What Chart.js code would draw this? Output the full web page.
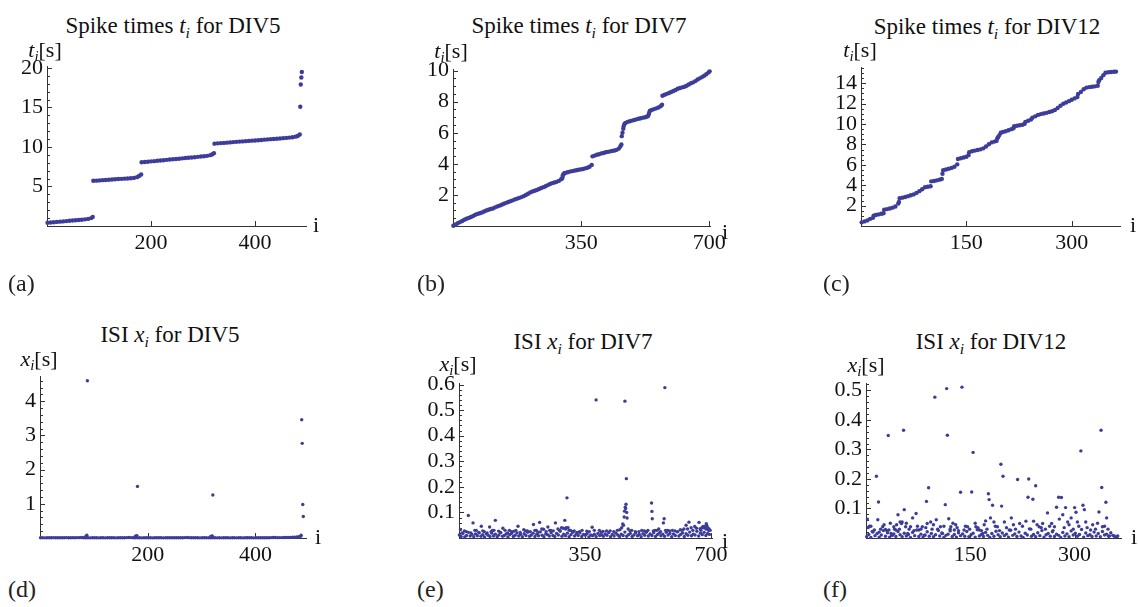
<!DOCTYPE html>
<html>
<head>
<meta charset="utf-8">
<title>Spike times and ISI for DIV5, DIV7, DIV12</title>
<script src="https://cdn.jsdelivr.net/npm/chart.js@4.4.1/dist/chart.umd.min.js"></script>
<style>
  html, body { margin: 0; padding: 0; background: #fff; }
  body { position: relative; width: 1138px; height: 607px; overflow: hidden;
         font-family: "Liberation Serif", "Times New Roman", "DejaVu Serif", serif; color: #111; }
  canvas { position: absolute; }
  .txt { position: absolute; white-space: nowrap; font-size: 22px; line-height: 22px; }
  .txt sub { font-size: 0.68em; vertical-align: -0.3em; line-height: 0; }
  .ttl { font-size: 23px; line-height: 23px; }
  .tag { font-size: 24px; line-height: 24px; color: #222; }
</style>
</head>
<body>
<script>
// ---- spike times t_i (index i -> seconds) ----
const div5Idx = [
  1, 7, 13, 19, 25, 31, 37, 43, 49, 55, 61, 67, 73, 79, 85, 88,
  89, 95, 101, 107, 113, 119, 125, 131, 137, 143, 149, 155, 161, 167, 173, 177, 181,
  182, 188, 194, 200, 206, 212, 218, 224, 230, 236, 242, 248, 254, 260, 266, 272, 278, 284, 290, 296, 302, 308, 314, 318, 321,
  322, 328, 334, 340, 346, 352, 358, 364, 370, 376, 382, 388, 394, 400, 406, 412, 418, 424, 430, 436, 442, 448, 454, 460, 466, 472, 478, 482, 486,
  487, 488, 489, 490
];
const div5T = [
  0.42, 0.45, 0.48, 0.52, 0.55, 0.58, 0.62, 0.66, 0.69, 0.72, 0.76, 0.80, 0.84, 0.90, 1.00, 1.15,
  5.72, 5.74, 5.77, 5.80, 5.83, 5.86, 5.89, 5.92, 5.95, 5.97, 5.99, 6.02, 6.05, 6.09, 6.18, 6.32, 6.52,
  8.06, 8.10, 8.14, 8.18, 8.21, 8.25, 8.29, 8.33, 8.37, 8.41, 8.44, 8.48, 8.52, 8.56, 8.60, 8.64, 8.67, 8.71, 8.75, 8.79, 8.83, 8.88, 8.97, 9.08, 9.22,
  10.42, 10.46, 10.49, 10.52, 10.55, 10.58, 10.62, 10.65, 10.68, 10.71, 10.74, 10.77, 10.80, 10.83, 10.86, 10.89, 10.93, 10.96, 10.99, 11.02, 11.05, 11.08, 11.12, 11.15, 11.19, 11.24, 11.31, 11.40, 11.58,
  15.1, 17.9, 18.8, 19.5
];

const div7Idx = [
  1, 7, 13, 19, 25, 31, 37, 43, 49, 55,
  61, 67, 73, 79, 85, 91, 97, 103, 109, 115,
  121, 127, 133, 139, 145, 151, 157, 163, 169, 175,
  181, 187, 193, 199, 205, 211, 217, 223, 229, 235,
  241, 247, 253, 259, 265, 271, 277, 283, 289, 295,
  297, 299, 300, 302, 304,
  307, 313, 319, 325, 331, 337, 343, 349, 355, 361, 367, 373, 379,
  381, 387, 393, 399, 405, 411, 417, 423, 429, 435, 441, 447, 453, 457, 460,
  461, 463, 465, 466, 468, 471,
  477, 483, 489, 495, 501, 507, 513, 519, 525, 529, 533, 535, 536, 538,
  543, 549, 555, 561, 567, 571,
  572, 578, 584, 590, 596, 602, 608, 614, 620, 626, 632, 638, 644, 650, 656, 662, 668, 674, 680, 686, 692, 698, 701
];
const div7T = [
  0.02, 0.10, 0.18, 0.25, 0.32, 0.40, 0.47, 0.52, 0.58, 0.64,
  0.72, 0.78, 0.82, 0.87, 0.93, 1.00, 1.05, 1.09, 1.13, 1.20,
  1.26, 1.31, 1.37, 1.43, 1.49, 1.54, 1.60, 1.65, 1.71, 1.76,
  1.81, 1.86, 1.92, 1.99, 2.07, 2.16, 2.22, 2.27, 2.32, 2.38,
  2.44, 2.50, 2.56, 2.63, 2.70, 2.76, 2.80, 2.84, 2.90, 3.00,
  3.04, 3.10, 3.26, 3.33, 3.39,
  3.42, 3.46, 3.50, 3.53, 3.56, 3.59, 3.62, 3.64, 3.67, 3.71, 3.75, 3.81, 3.93,
  4.48, 4.53, 4.58, 4.62, 4.67, 4.70, 4.74, 4.77, 4.80, 4.83, 4.86, 4.90, 4.98, 5.12, 5.25,
  5.78, 6.00, 6.25, 6.40, 6.55, 6.63,
  6.70, 6.74, 6.78, 6.82, 6.86, 6.90, 6.93, 6.97, 7.00, 7.03, 7.08, 7.20, 7.30, 7.42,
  7.47, 7.52, 7.57, 7.62, 7.70, 7.80,
  8.38, 8.44, 8.50, 8.56, 8.62, 8.68, 8.75, 8.83, 8.88, 8.92, 8.96, 9.02, 9.10, 9.18, 9.24, 9.32, 9.42, 9.50, 9.58, 9.67, 9.76, 9.88, 9.95
];

const div12Idx = [
  1, 5, 9, 13, 17, 18, 21, 25, 29, 32,
  33, 37, 41, 45, 49, 53, 54, 55, 59, 63,
  67, 71, 75, 79, 83, 87, 91, 95, 99, 100,
  104, 108, 112, 115, 116, 117, 121, 125, 129, 133,
  137, 138, 142, 146, 150, 153, 154, 158, 162, 166,
  170, 174, 178, 182, 186, 190, 193, 194, 195, 197,
  199, 202, 206, 210, 214, 217, 218, 222, 226, 230,
  233, 234, 238, 242, 244, 248, 252, 256, 260, 264,
  268, 272, 276, 280, 284, 288, 292, 296, 300, 304,
  308, 309, 313, 317, 321, 325, 329, 333, 337, 338,
  339, 342, 345, 348, 352, 356, 360, 363
];
const div12T = [
  0.36, 0.45, 0.55, 0.70, 0.80, 1.02, 1.08, 1.14, 1.20, 1.25,
  1.60, 1.66, 1.72, 1.80, 1.92, 2.20, 2.35, 2.72, 2.78, 2.85,
  2.93, 3.02, 3.10, 3.25, 3.42, 3.60, 3.80, 3.85, 3.90, 4.38,
  4.42, 4.48, 4.55, 4.62, 5.13, 5.48, 5.55, 5.62, 5.70, 5.82,
  6.05, 6.57, 6.65, 6.72, 6.80, 6.95, 7.24, 7.33, 7.40, 7.46,
  7.52, 7.62, 7.80, 8.02, 8.20, 8.28, 8.35, 8.60, 8.71, 8.92,
  9.15, 9.22, 9.30, 9.40, 9.50, 9.58, 9.78, 9.83, 9.88, 9.94,
  10.02, 10.22, 10.32, 10.45, 10.63, 10.76, 10.90, 10.98, 11.04, 11.10,
  11.18, 11.26, 11.38, 11.58, 11.80, 12.00, 12.12, 12.25, 12.38, 12.52,
  12.65, 12.95, 13.15, 13.42, 13.58, 13.63, 13.66, 13.70, 13.76, 14.13,
  14.30, 14.52, 14.80, 15.04, 15.08, 15.11, 15.13, 15.15
];

// ---- inter-spike intervals x_i: low band (every bandStep-th i from 1) + visible peaks ----
const div5IsiBandStep = 4;
const div5IsiBand = [
  0.006, 0.008, 0.005, 0.009, 0.007, 0.006, 0.010, 0.008, 0.007, 0.009,
  0.006, 0.008, 0.011, 0.007, 0.009, 0.010, 0.008, 0.012, 0.010, 0.014,
  0.009, 0.007, 0.006, 0.005, 0.007, 0.006, 0.008, 0.005, 0.006, 0.007,
  0.005, 0.006, 0.008, 0.006, 0.007, 0.005, 0.006, 0.007, 0.009, 0.008,
  0.012, 0.016, 0.011, 0.008, 0.006, 0.007, 0.006, 0.005, 0.007, 0.006,
  0.006, 0.007, 0.005, 0.006, 0.008, 0.007, 0.006, 0.005, 0.006, 0.007,
  0.006, 0.007, 0.008, 0.006, 0.007, 0.008, 0.009, 0.012, 0.014, 0.010,
  0.009, 0.007, 0.006, 0.006, 0.005, 0.006, 0.007, 0.006, 0.005, 0.006,
  0.006, 0.007, 0.005, 0.006, 0.005, 0.006, 0.007, 0.006, 0.005, 0.006,
  0.006, 0.005, 0.006, 0.007, 0.005, 0.006, 0.006, 0.007, 0.006, 0.005,
  0.006, 0.007, 0.006, 0.008, 0.007, 0.009, 0.008, 0.011, 0.013, 0.015,
  0.010, 0.011, 0.012, 0.013, 0.015, 0.016, 0.018, 0.020, 0.024, 0.028,
  0.035
];
const div5IsiPeakIdx = [84, 86, 87, 88, 176, 178, 180, 181, 316, 318, 320, 321, 482, 484, 485, 486, 487, 488, 489];
const div5IsiPeak = [0.03, 0.05, 0.08, 4.60, 0.03, 0.06, 0.07, 1.51, 0.03, 0.05, 0.06, 1.26, 0.03, 0.05, 0.08, 3.46, 2.77, 0.98, 0.63];

const div7IsiBandStep = 5;
const div7IsiBand = [
  0.012, 0.006, 0.018, 0.004, 0.010, 0.022, 0.008, 0.014, 0.005, 0.016,
  0.009, 0.020, 0.007, 0.013, 0.004, 0.017, 0.011, 0.006, 0.019, 0.008,
  0.015, 0.005, 0.012, 0.021, 0.007, 0.010, 0.016, 0.004, 0.013, 0.018,
  0.006, 0.011, 0.020, 0.008, 0.014, 0.005, 0.017, 0.010, 0.022, 0.007,
  0.012, 0.019, 0.006, 0.015, 0.009, 0.024, 0.011, 0.005, 0.016, 0.013,
  0.008, 0.021, 0.010, 0.006, 0.018, 0.012, 0.026, 0.007, 0.015, 0.009,
  0.019, 0.005, 0.013, 0.022, 0.008, 0.016, 0.010, 0.020, 0.006, 0.014,
  0.011, 0.017, 0.004, 0.012, 0.009, 0.015, 0.006, 0.018, 0.010, 0.013,
  0.007, 0.016, 0.011, 0.021, 0.005, 0.014, 0.008, 0.019, 0.012, 0.006,
  0.015, 0.010, 0.023, 0.007, 0.013, 0.018, 0.006, 0.012, 0.020, 0.009,
  0.014, 0.005, 0.017, 0.011, 0.024, 0.008, 0.016, 0.010, 0.021, 0.006,
  0.013, 0.019, 0.009, 0.015, 0.007, 0.022, 0.012, 0.018, 0.005, 0.016,
  0.010, 0.024, 0.008, 0.014, 0.020, 0.006, 0.017, 0.011, 0.023, 0.009,
  0.015, 0.012, 0.026, 0.008, 0.019, 0.013, 0.022, 0.010, 0.018, 0.014
];
const div7IsiPeakIdx = [
  4, 15, 26, 39, 48, 62, 70, 85, 93, 101,
  110, 122, 140, 152, 164, 180, 190, 207, 215, 224,
  235, 247, 255, 268, 275, 285, 294, 296, 298, 300,
  303, 310, 320, 335, 355, 370, 381, 390, 400, 420,
  440, 452, 455, 457, 459, 460, 461, 462, 463, 464,
  465, 466, 467, 470, 480, 500, 515, 525, 535, 536,
  537, 545, 555, 568, 570, 572, 574, 580, 600, 615,
  625, 631, 639, 645, 655, 667, 670, 675, 680, 683,
  687, 689, 693, 695,
  8, 20, 33, 44, 55, 66, 78, 89, 97, 115,
  128, 135, 146, 158, 170, 185, 198, 211, 220, 230,
  242, 252, 262, 280, 290, 306, 315, 328, 342, 362,
  376, 395, 410, 430, 447, 475, 490, 508, 520, 540,
  550, 560, 585, 593, 608, 620, 635, 650, 660, 672,
  678, 686, 691, 698
];
const div7IsiPeak = [
  0.033, 0.028, 0.088, 0.059, 0.030, 0.046, 0.025, 0.043, 0.030, 0.069,
  0.027, 0.038, 0.030, 0.026, 0.046, 0.032, 0.028, 0.053, 0.030, 0.061,
  0.034, 0.043, 0.030, 0.059, 0.035, 0.040, 0.069, 0.035, 0.040, 0.157,
  0.040, 0.030, 0.028, 0.025, 0.027, 0.042, 0.540, 0.030, 0.026, 0.028,
  0.030, 0.040, 0.055, 0.050, 0.082, 0.105, 0.535, 0.120, 0.115, 0.132,
  0.232, 0.100, 0.078, 0.035, 0.030, 0.025, 0.028, 0.030, 0.137, 0.104,
  0.075, 0.030, 0.035, 0.059, 0.075, 0.588, 0.030, 0.030, 0.028, 0.032,
  0.035, 0.050, 0.062, 0.040, 0.045, 0.061, 0.036, 0.040, 0.040, 0.045,
  0.056, 0.048, 0.030, 0.035,
  0.020, 0.025, 0.020, 0.030, 0.022, 0.028, 0.020, 0.025, 0.030, 0.022,
  0.030, 0.020, 0.025, 0.030, 0.022, 0.028, 0.025, 0.030, 0.022, 0.035,
  0.025, 0.030, 0.028, 0.030, 0.038, 0.030, 0.025, 0.022, 0.030, 0.025,
  0.030, 0.022, 0.028, 0.025, 0.032, 0.028, 0.025, 0.030, 0.022, 0.028,
  0.030, 0.025, 0.028, 0.030, 0.025, 0.030, 0.035, 0.030, 0.038, 0.030,
  0.045, 0.035, 0.040, 0.030
];

const div12IsiBandStep = 3;
const div12IsiBand = [
  0.004, 0.012, 0.002, 0.020, 0.008, 0.015, 0.003, 0.010, 0.025, 0.006,
  0.018, 0.003, 0.009, 0.014, 0.005, 0.022, 0.011, 0.004, 0.016, 0.007,
  0.012, 0.002, 0.019, 0.008, 0.027, 0.005, 0.013, 0.003, 0.010, 0.021,
  0.006, 0.015, 0.004, 0.011, 0.030, 0.007, 0.017, 0.002, 0.009, 0.013,
  0.024, 0.005, 0.012, 0.003, 0.018, 0.008, 0.014, 0.006, 0.022, 0.004,
  0.010, 0.016, 0.003, 0.028, 0.007, 0.012, 0.005, 0.019, 0.009, 0.002,
  0.015, 0.006, 0.023, 0.011, 0.004, 0.017, 0.008, 0.013, 0.003, 0.026,
  0.009, 0.014, 0.005, 0.020, 0.007, 0.002, 0.016, 0.010, 0.031, 0.006,
  0.012, 0.004, 0.018, 0.008, 0.025, 0.003, 0.011, 0.015, 0.006, 0.021,
  0.005, 0.013, 0.009, 0.002, 0.019, 0.007, 0.014, 0.004, 0.024, 0.010,
  0.016, 0.006, 0.012, 0.029, 0.003, 0.017, 0.008, 0.011, 0.005, 0.020,
  0.007, 0.015, 0.004, 0.022, 0.010, 0.013, 0.006, 0.018, 0.009, 0.003,
  0.005
];
const div12IsiPeakIdx = [
  2, 5, 7, 12, 15, 17, 18, 19, 24, 28,
  32, 33, 36, 38, 40, 43, 46, 49, 51, 52,
  54, 55, 57, 60, 64, 67, 72, 76, 81, 84,
  87, 88, 90, 93, 99, 101, 107, 110, 114, 116,
  117, 119, 122, 127, 129, 136, 138, 141, 146, 152,
  154, 158, 163, 168, 172, 176, 177, 179, 182, 184,
  189, 194, 195, 197, 199, 206, 209, 218, 221, 230,
  233, 234, 240, 241, 244, 249, 254, 261, 267, 271,
  274, 277, 278, 281, 283, 287, 290, 295, 300, 302,
  304, 309, 312, 314, 316, 323, 335, 338, 339, 340,
  345, 346, 350, 357, 362,
  3, 9, 21, 26, 30, 35, 41, 44, 48, 58,
  62, 69, 74, 79, 86, 95, 97, 104, 112, 121,
  125, 131, 133, 143, 149, 157, 161, 166, 170, 174,
  186, 192, 202, 212, 215, 225, 237, 246, 252, 258,
  264, 269, 285, 292, 298, 306, 318, 326, 330, 333,
  343, 348
];
const div12IsiPeak = [
  0.064, 0.040, 0.040, 0.027, 0.209, 0.062, 0.122, 0.020, 0.038, 0.029,
  0.347, 0.027, 0.015, 0.009, 0.038, 0.027, 0.079, 0.054, 0.049, 0.054,
  0.365, 0.096, 0.038, 0.015, 0.038, 0.068, 0.083, 0.027, 0.038, 0.009,
  0.124, 0.049, 0.170, 0.054, 0.477, 0.062, 0.038, 0.015, 0.113, 0.506,
  0.348, 0.065, 0.038, 0.027, 0.045, 0.155, 0.511, 0.027, 0.038, 0.156,
  0.290, 0.038, 0.027, 0.015, 0.058, 0.150, 0.130, 0.068, 0.111, 0.054,
  0.038, 0.250, 0.108, 0.209, 0.054, 0.027, 0.068, 0.198, 0.049, 0.057,
  0.138, 0.200, 0.131, 0.057, 0.177, 0.038, 0.049, 0.085, 0.049, 0.038,
  0.104, 0.138, 0.064, 0.137, 0.079, 0.103, 0.054, 0.068, 0.103, 0.087,
  0.054, 0.295, 0.111, 0.096, 0.054, 0.027, 0.088, 0.365, 0.171, 0.038,
  0.121, 0.068, 0.007, 0.007, 0.007,
  0.035, 0.022, 0.030, 0.045, 0.025, 0.050, 0.030, 0.045, 0.030, 0.050,
  0.030, 0.025, 0.040, 0.030, 0.035, 0.030, 0.045, 0.025, 0.040, 0.030,
  0.050, 0.035, 0.025, 0.040, 0.030, 0.050, 0.035, 0.025, 0.045, 0.030,
  0.040, 0.025, 0.035, 0.045, 0.030, 0.040, 0.030, 0.045, 0.035, 0.030,
  0.040, 0.025, 0.035, 0.045, 0.030, 0.040, 0.035, 0.045, 0.030, 0.050,
  0.040, 0.030
];

// ---- tick labels ----
const xTicksDiv5 = [200, 400];
const xTicksDiv7 = [350, 700];
const xTicksDiv12 = [150, 300];
const yTicksA = [5, 10, 15, 20];
const yTicksB = [2, 4, 6, 8, 10];
const yTicksC = [2, 4, 6, 8, 10, 12, 14];
const yTicksD = [1, 2, 3, 4];
const yTicksE = [0.1, 0.2, 0.3, 0.4, 0.5, 0.6];
const yTicksF = [0.1, 0.2, 0.3, 0.4, 0.5];

const DOT = 'rgb(61,61,153)';
const AXIS = '#333';
const AXIS_W = 45, AXIS_H = 32, PAD_T = 20, PAD_R = 30;
const tickFont = { family: '"Liberation Serif", "Times New Roman", "DejaVu Serif", serif', size: 22 };

function pairs(idx, vals) {
  return idx.map((i, k) => ({ x: i, y: vals[k] }));
}
function isiPoints(band, step, peakIdx, peaks) {
  return band.map((v, k) => ({ x: 1 + k * step, y: v })).concat(pairs(peakIdx, peaks));
}

// draws Mathematica-style ticks pointing into the plot
const inwardTicks = {
  id: 'inwardTicks',
  beforeDatasetsDraw(chart, args, o) {
    const { ctx, scales: { x, y } } = chart;
    ctx.save();
    ctx.strokeStyle = AXIS;
    ctx.lineWidth = 1;
    ctx.beginPath();
    const n = Math.floor(y.max / o.yMinor + 1e-6);
    for (let k = 1; k <= n; k++) {
      const v = k * o.yMinor;
      const major = Math.abs(v / o.yMajor - Math.round(v / o.yMajor)) < 1e-6;
      const py = Math.round(y.getPixelForValue(v)) + 0.5;
      ctx.moveTo(x.left, py);
      ctx.lineTo(x.left + (major ? 5 : 3), py);
    }
    o.xMajor.forEach(v => {
      const px = Math.round(x.getPixelForValue(v)) + 0.5;
      ctx.moveTo(px, y.bottom);
      ctx.lineTo(px, y.bottom - 5);
    });
    ctx.stroke();
    ctx.restore();
  }
};

function makePanel(p) {
  const W = p.r - p.l + AXIS_W + PAD_R;
  const H = p.b - p.t + PAD_T + AXIS_H;
  const cv = document.createElement('canvas');
  cv.width = W; cv.height = H;
  cv.style.left = (p.l - AXIS_W) + 'px';
  cv.style.top = (p.t - PAD_T) + 'px';
  cv.style.width = W + 'px';
  cv.style.height = H + 'px';
  document.body.appendChild(cv);

  new Chart(cv.getContext('2d'), {
    type: 'scatter',
    data: {
      datasets: [{
        data: p.points,
        backgroundColor: DOT,
        borderWidth: 0,
        pointRadius: p.radius,
        clip: false
      }]
    },
    options: {
      responsive: false,
      animation: false,
      devicePixelRatio: 1,
      events: [],
      layout: { padding: { top: PAD_T, right: PAD_R, left: 0, bottom: 0 } },
      plugins: {
        legend: { display: false },
        tooltip: { enabled: false },
        inwardTicks: { yMajor: p.yMajor, yMinor: p.yMinor, xMajor: p.xTicks }
      },
      scales: {
        x: {
          type: 'linear', min: 0, max: p.xMax,
          grid: { display: false, drawTicks: false },
          border: { display: true, color: AXIS, width: 1 },
          ticks: { font: tickFont, color: '#111', padding: 4, maxRotation: 0, autoSkip: false },
          afterBuildTicks: s => { s.ticks = p.xTicks.map(v => ({ value: v })); },
          afterFit: s => { s.height = AXIS_H; }
        },
        y: {
          type: 'linear', min: 0, max: p.yMax,
          grid: { display: false, drawTicks: false },
          border: { display: true, color: AXIS, width: 1 },
          ticks: { font: tickFont, color: '#111', padding: 4, autoSkip: false,
                   callback: v => p.yDigits ? Number(v).toFixed(p.yDigits) : String(v) },
          afterBuildTicks: s => { s.ticks = p.yTicks.map(v => ({ value: v })); },
          afterFit: s => { s.width = AXIS_W; }
        }
      }
    },
    plugins: [inwardTicks]
  });
}

const panels = [
  { l: 47, r: 306, t: 66, b: 226, xMax: 498, yMax: 20.25, xTicks: xTicksDiv5, yTicks: yTicksA,
    yMajor: 5, yMinor: 1, radius: 2.2, points: pairs(div5Idx, div5T) },
  { l: 453, r: 710, t: 69, b: 226, xMax: 702, yMax: 10.1, xTicks: xTicksDiv7, yTicks: yTicksB,
    yMajor: 2, yMinor: 0.5, radius: 2.2, points: pairs(div7Idx, div7T) },
  { l: 861, r: 1120, t: 67, b: 226, xMax: 368.7, yMax: 15.6, xTicks: xTicksDiv12, yTicks: yTicksC,
    yMajor: 2, yMinor: 0.5, radius: 2.2, points: pairs(div12Idx, div12T) },
  { l: 40, r: 306, t: 376, b: 538, xMax: 494, yMax: 4.74, xTicks: xTicksDiv5, yTicks: yTicksD,
    yMajor: 1, yMinor: 0.2, radius: 1.7,
    points: isiPoints(div5IsiBand, div5IsiBandStep, div5IsiPeakIdx, div5IsiPeak) },
  { l: 459, r: 712, t: 383, b: 538, xMax: 703, yMax: 0.606, xTicks: xTicksDiv7, yTicks: yTicksE,
    yMajor: 0.1, yMinor: 0.02, radius: 1.7, yDigits: 1,
    points: isiPoints(div7IsiBand, div7IsiBandStep, div7IsiPeakIdx, div7IsiPeak) },
  { l: 866, r: 1121, t: 383, b: 538, xMax: 366.7, yMax: 0.525, xTicks: xTicksDiv12, yTicks: yTicksF,
    yMajor: 0.1, yMinor: 0.02, radius: 1.7, yDigits: 1,
    points: isiPoints(div12IsiBand, div12IsiBandStep, div12IsiPeakIdx, div12IsiPeak) }
];
panels.forEach(makePanel);

// ---- titles, axis labels and panel tags (baseline positioned) ----
function addText(html, x, base, center, cls) {
  const el = document.createElement('div');
  el.className = 'txt' + (cls ? ' ' + cls : '');
  el.innerHTML = html;
  const fs = cls === 'tag' ? 24 : cls === 'ttl' ? 23 : 22;
  el.style.left = x + 'px';
  el.style.top = (base - 0.8375 * fs) + 'px';
  if (center) el.style.transform = 'translateX(-50%)';
  document.body.appendChild(el);
}
const ti = '<i>t<sub>i</sub></i>';
const xi = '<i>x<sub>i</sub></i>';
addText('Spike times ' + ti + ' for DIV5', 173, 33, true, 'ttl');
addText('Spike times ' + ti + ' for DIV7', 579, 33, true, 'ttl');
addText('Spike times ' + ti + ' for DIV12', 987, 34, true, 'ttl');
addText('ISI ' + xi + ' for DIV5', 170, 342, true, 'ttl');
addText('ISI ' + xi + ' for DIV7', 583, 349, true, 'ttl');
addText('ISI ' + xi + ' for DIV12', 991, 349, true, 'ttl');

addText(ti + '[s]', 45, 57, true);
addText(ti + '[s]', 451, 58, true);
addText(ti + '[s]', 860, 57, true);
addText(xi + '[s]', 39, 366, true);
addText(xi + '[s]', 458, 371, true);
addText(xi + '[s]', 866, 372, true);

addText('i', 313, 232, false);
addText('i', 722, 239, false);
addText('i', 1130, 232, false);
addText('i', 315, 544, false);
addText('i', 722, 548, false);
addText('i', 1131, 544, false);

addText('(a)', 8, 291, false, 'tag');
addText('(b)', 417, 291, false, 'tag');
addText('(c)', 823, 291, false, 'tag');
addText('(d)', 8, 597, false, 'tag');
addText('(e)', 417, 597, false, 'tag');
addText('(f)', 823, 597, false, 'tag');
</script>
</body>
</html>
